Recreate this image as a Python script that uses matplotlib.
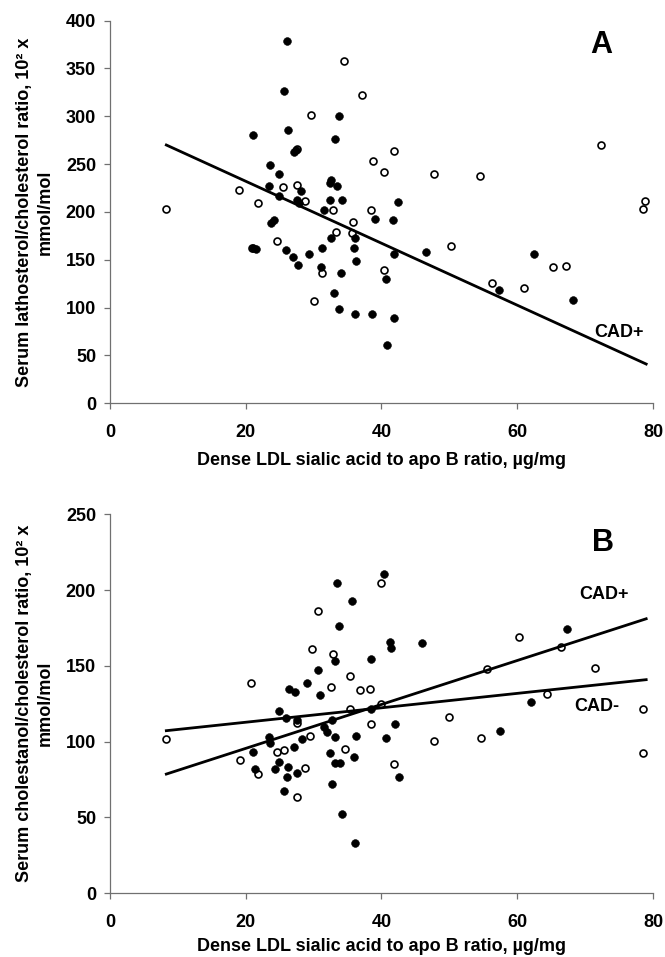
import matplotlib
matplotlib.use("Agg")
import matplotlib.pyplot as plt
import numpy as np

plt.rcParams['font.family'] = ['Liberation Sans', 'DejaVu Sans']
plt.rcParams['font.weight'] = 'bold'

# panel A: lathosterol, CAD+ (filled) and CAD- (open)
a_pos_x = [26.1, 25.6, 26.2, 21.1, 33.8, 33.2, 27.1, 27.4, 23.6, 24.9, 23.4, 28.2, 24.9,
           27.6, 27.8, 32.6, 32.4, 33.5, 32.4, 34.2, 31.6, 24.2, 23.7, 39.0, 41.7, 42.5,
           32.6, 36.1, 35.9, 36.2, 41.9, 46.5, 21.1, 21.5, 26.0, 26.9, 27.7, 29.3, 31.3,
           31.1, 34.0, 40.6, 33.0, 33.8, 36.1, 38.6, 41.9, 40.8, 57.3, 62.4, 68.2]
a_pos_y = [379, 326, 286, 280, 300, 276, 263, 265, 249, 240, 227, 222, 217,
           212, 209, 233, 230, 227, 212, 213, 202, 192, 188, 193, 192, 210,
           173, 173, 162, 149, 156, 158, 162, 161, 160, 153, 145, 156, 162,
           142, 136, 130, 115, 99, 93, 93, 89, 61, 118, 156, 108]
a_neg_x = [8.3, 19.0, 21.8, 24.6, 20.9, 25.5, 27.6, 27.6, 28.8, 29.6, 30.0, 31.2, 32.9,
           33.3, 34.5, 35.6, 35.8, 37.2, 38.4, 38.8, 40.3, 41.8, 40.4, 47.8, 50.2, 54.5,
           56.3, 61.0, 65.2, 67.2, 72.4, 78.8, 78.5]
a_neg_y = [203, 223, 209, 170, 162, 226, 228, 266, 211, 301, 107, 136, 202,
           179, 358, 178, 190, 322, 202, 253, 242, 264, 139, 240, 164, 238,
           126, 120, 142, 144, 270, 211, 203]

# panel B: cholestanol
b_pos_x = [21.1, 21.3, 23.5, 23.6, 24.9, 26.0, 27.6, 24.9, 24.3, 26.2, 26.1, 27.1, 28.3,
           27.6, 25.6, 31.5, 32.0, 32.7, 33.1, 32.4, 32.7, 33.2, 33.9, 36.2, 36.0, 34.2,
           36.1, 38.5, 40.7, 42.0, 42.6, 57.4, 62.0, 33.4, 33.7, 33.1, 30.7, 29.0, 26.4,
           27.3, 30.9, 40.3, 35.6, 38.5, 41.2, 41.4, 45.9, 67.4]
b_pos_y = [93.4, 82, 103, 99, 120.5, 115.5, 114, 86.8, 82.3, 83.4, 76.4, 96.2, 101.5,
           79.5, 67.5, 110, 106.6, 114, 103, 92.7, 72.4, 85.7, 85.7, 104, 89.6, 52.5,
           33, 121.4, 102.6, 111.7, 76.8, 107, 126, 205, 176, 153, 147, 139, 134.6,
           133, 130.6, 210.4, 192.6, 154.7, 166, 162, 165, 174]
b_neg_x = [8.3, 19.1, 21.8, 20.8, 24.6, 25.6, 27.6, 29.5, 28.8, 27.6, 34.6, 35.4, 39.9,
           38.4, 41.9, 47.8, 50.0, 54.6, 78.5, 78.6, 30.7, 29.7, 32.8, 32.5, 35.4, 36.8,
           38.3, 39.9, 60.2, 66.5, 55.6, 71.5, 64.4]
b_neg_y = [101.5, 87.9, 79, 138.5, 93.4, 94.5, 112, 103.8, 82.8, 63.6, 94.9, 121.5, 125,
           111.5, 85.2, 100.4, 116.6, 102.2, 121.6, 92.7, 186, 161, 158, 136, 143.5, 134,
           135, 205, 169, 162.5, 148, 148.4, 131.7]

# regression lines (slope, intercept) over the x range
fit_x = [8.3, 79.0]
a_fit_pos = (-3.239, 296.9)
b_fit_pos = (1.449, 66.6)
b_fit_neg = (0.476, 103.3)

xlabel = "Dense LDL sialic acid to apo B ratio, \u00b5g/mg"

fig = plt.figure(figsize=(6.65, 9.57), dpi=100)
axA = fig.add_axes([0.1654, 0.5786, 0.8165, 0.3998])
axB = fig.add_axes([0.1654, 0.0666, 0.8165, 0.3960])


def style(ax, ymax, ystep, xpad):
    ax.set_xlim(0, 80)
    ax.set_ylim(0, ymax)
    ax.set_xticks(np.arange(0, 81, 20))
    ax.set_yticks(np.arange(0, ymax + 1, ystep))
    for s in ['top', 'right']:
        ax.spines[s].set_visible(False)
    for s in ['left', 'bottom']:
        ax.spines[s].set_color('#707070')
        ax.spines[s].set_linewidth(0.9)
    ax.tick_params(axis='both', direction='out', length=4, width=0.9, color='#707070',
                   labelsize=13)
    ax.tick_params(axis='x', pad=11)
    ax.tick_params(axis='y', pad=6)
    ax.set_xlabel(xlabel, fontsize=13, fontweight='bold', labelpad=xpad)


def dots(ax, px, py, nx, ny):
    ax.plot(nx, ny, 'o', ms=5, mfc='white', mec='black', mew=1.2, ls='none', clip_on=False)
    ax.plot(px, py, 'o', ms=5.6, mfc='black', mec='black', mew=0.4, ls='none', clip_on=False)


def fitline(ax, fit):
    xs = np.array(fit_x)
    ax.plot(xs, fit[0] * xs + fit[1], color='black', lw=2)


style(axA, 400, 50, 8)
dots(axA, a_pos_x, a_pos_y, a_neg_x, a_neg_y)
fitline(axA, a_fit_pos)
axA.set_ylabel("Serum lathosterol/cholesterol ratio, 10\u00b2 x\nmmol/mol",
               fontsize=13, fontweight='bold', linespacing=1.3)
axA.yaxis.set_label_coords(-0.103, 0.5)
axA.text(72.4, 375, "A", fontsize=22, fontweight='bold', ha='center', va='center')
axA.text(75.0, 73.8, "CAD+", fontsize=13, fontweight='bold', ha='center', va='center')

style(axB, 250, 50, 5)
dots(axB, b_pos_x, b_pos_y, b_neg_x, b_neg_y)
fitline(axB, b_fit_pos)
fitline(axB, b_fit_neg)
axB.set_ylabel("Serum cholestanol/cholesterol ratio, 10\u00b2 x\nmmol/mol",
               fontsize=13, fontweight='bold', linespacing=1.3)
axB.yaxis.set_label_coords(-0.103, 0.5)
axB.text(72.6, 231, "B", fontsize=22, fontweight='bold', ha='center', va='center')
axB.text(72.8, 196.8, "CAD+", fontsize=13, fontweight='bold', ha='center', va='center')
axB.text(71.8, 123, "CAD-", fontsize=13, fontweight='bold', ha='center', va='center')

fig.savefig("out.png", dpi=100)
